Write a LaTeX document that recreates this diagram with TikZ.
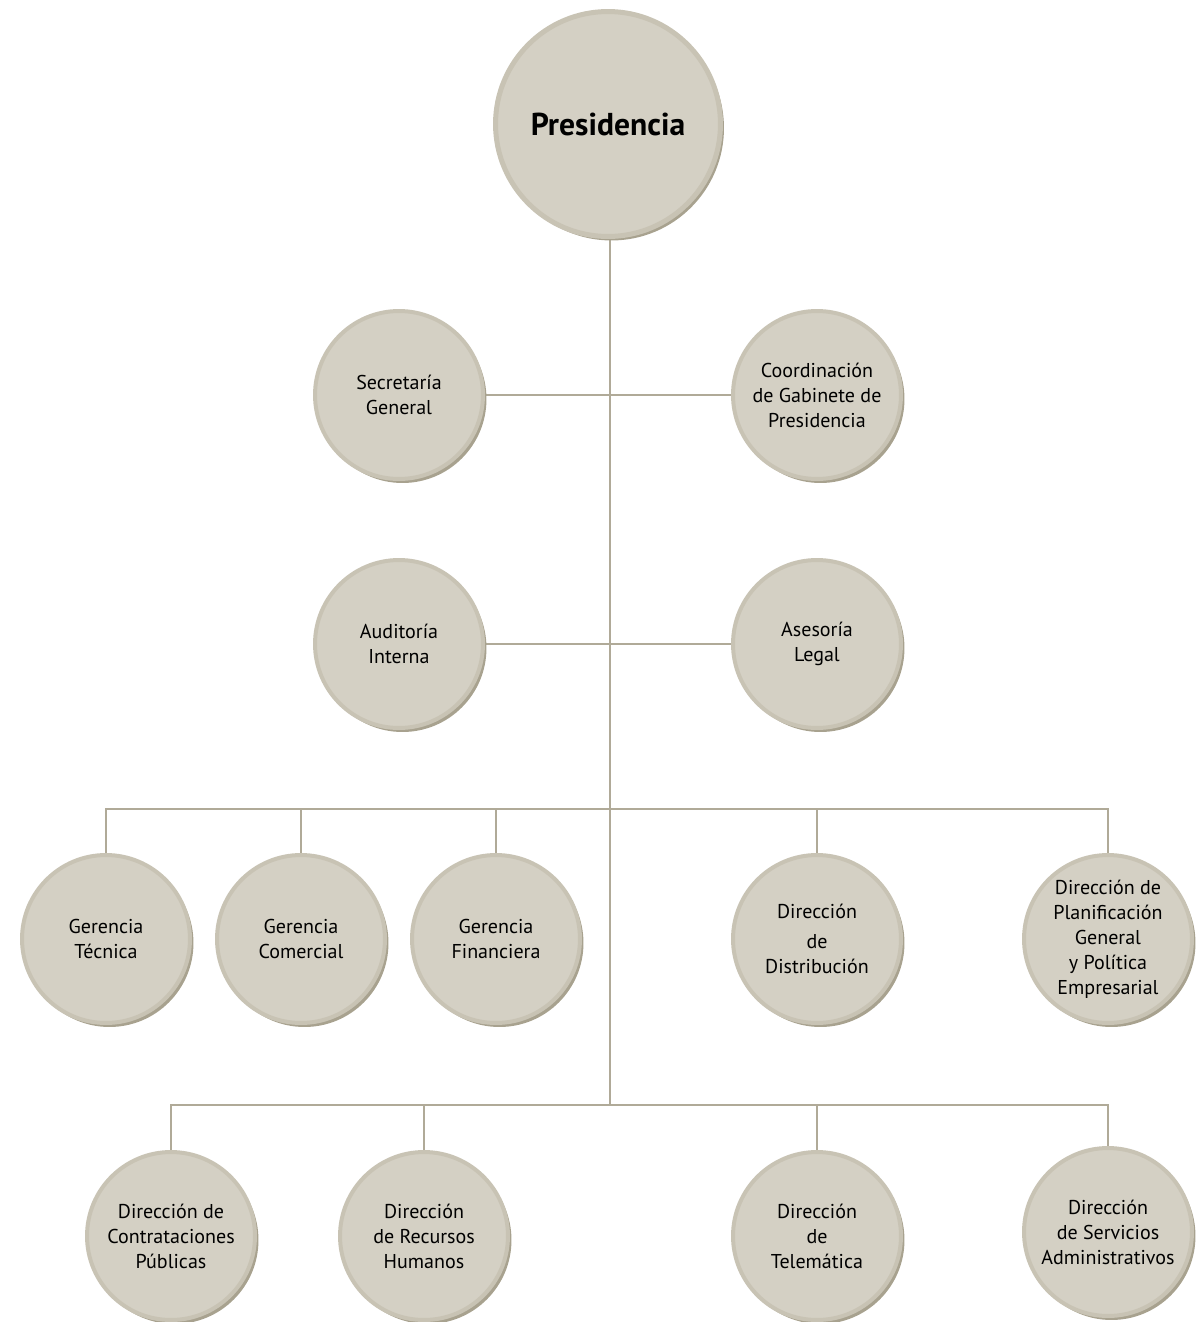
\documentclass[tikz,border=0pt]{standalone}
\usepackage{fontspec}
\setmainfont{PT Sans}
\usetikzlibrary{shadows,backgrounds}

\definecolor{unitfill}{HTML}{D4D0C4}
\definecolor{unitring}{HTML}{C8C3B4}
\definecolor{unitshade}{HTML}{A8A28F}
\definecolor{linkcol}{HTML}{B0AA98}

\tikzset{
  unit/.style={circle, inner sep=0pt, minimum size=3.36cm, align=center,
    fill=unitfill, draw=unitring, line width=0.08cm,
    drop shadow={shadow xshift=0.07cm, shadow yshift=-0.08cm, shadow scale=1,
      fill=unitshade, opacity=1},
    font=\fontsize{11.4}{14.2}\selectfont},
  topunit/.style={unit, minimum size=4.5cm, line width=0.1cm,
    font=\fontsize{18}{21}\selectfont\bfseries},
  link/.style={draw=linkcol, line width=0.04cm}
}

\begin{document}
\begin{tikzpicture}[x=0.02cm,y=-0.02cm]
    \useasboundingbox (0,0) rectangle (1199,1322);

    \coordinate (busA) at (610,809);
    \coordinate (busB) at (610,1105);

    \node[topunit] (pres) at (608,124) {Presidencia};

% staff units
    \foreach \name/\x/\y/\txt in {
        secgen/399/395/{Secretaría\\General},
        coord/817/395/{Coordinación\\de Gabinete de\\Presidencia},
        audit/399/644/{Auditoría\\Interna},
        legal/817/644/{Asesoría\\Legal}}
    {
        \node[unit] (\name) at (\x,\y) {\txt};
    };

% line units
    \foreach \name/\x/\y/\txt in {
        gtec/106/939/{Gerencia\\Técnica},
        gcom/301/939/{Gerencia\\Comercial},
        gfin/496/939/{Gerencia\\Financiera},
        ddist/817/939/{Dirección\\[3pt]de\\Distribución},
        dplan/1108/939/{Dirección de\\Planificación\\General\\y Política\\Empresarial},
        dcont/171/1236/{Dirección de\\Contrataciones\\Públicas},
        drrhh/424/1236/{Dirección\\de Recursos\\Humanos},
        dtel/817/1236/{Dirección\\de\\Telemática},
        dserv/1108/1232/{Dirección\\de Servicios\\Administrativos}}
    {
        \node[unit] (\name) at (\x,\y) {\txt};
    };

% connectors behind the circles
    \begin{scope}[on background layer]
      \draw[link] (pres.south -| busB) -- (busB);
      \draw[link] (secgen.east) -- (coord.west);
      \draw[link] (audit.east) -- (legal.west);
      \foreach \name in {gtec,gcom,gfin,ddist,dplan}
        \draw[link] (\name.north) |- (busA);
      \foreach \name in {dcont,drrhh,dtel,dserv}
        \draw[link] (\name.north) |- (busB);
    \end{scope}
\end{tikzpicture}
\end{document}
